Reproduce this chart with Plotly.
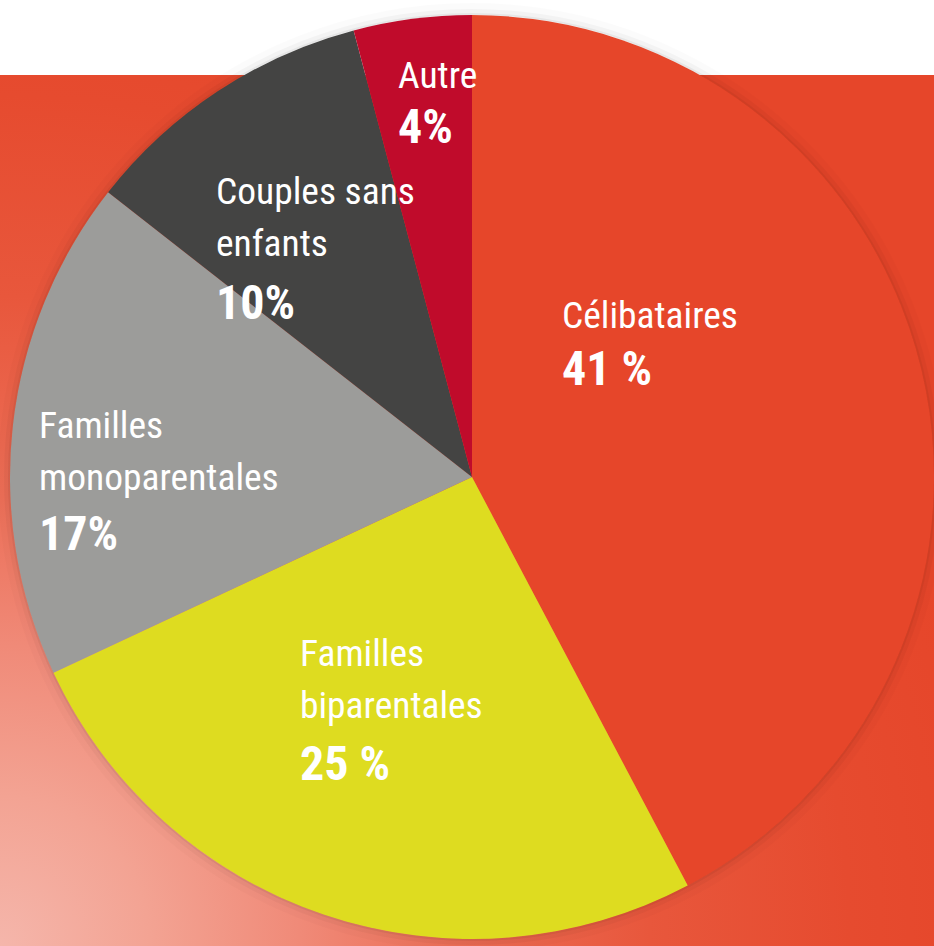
import plotly.graph_objects as go

# Household composition
categories = ["Célibataires", "Familles biparentales", "Familles monoparentales",
              "Couples sans enfants", "Autre"]
label_lines = ["Célibataires", "Familles<br>biparentales", "Familles<br>monoparentales",
               "Couples sans<br>enfants", "Autre"]
shares = [41, 25, 17, 10, 4]
share_labels = ["41 %", "25 %", "17%", "10%", "4%"]
colors = ["#E6462A", "#DEDC20", "#9C9C9A", "#444443", "#C00B2B"]

W, H = 934, 946
BAND_TOP = 75  # white strip above the red band
RED = "#E6462A"
PIE_LEFT, PIE_TOP = 10, 8  # pixel offsets of the pie domain

# (left x, first baseline, percent baseline) in pixels
label_pos = [(563, 327, 383), (301, 665, 778), (40, 437, 548), (217, 203, 317), (399, 87, 142)]

fig = go.Figure()

# red band with a pale glow from the bottom-left corner
gx, gy = 1000 / W, 1000 / (H - BAND_TOP)
fig.add_trace(go.Scatter(
    x=[-gx, gx, gx, -gx, -gx],
    y=[-gy, -gy, gy, gy, -gy],
    mode="lines",
    line=dict(width=0),
    fill="toself",
    fillgradient=dict(
        type="radial",
        colorscale=[[0, "#F5B6AB"], [0.15, "#F3A393"], [0.3, "#F08A78"],
                    [0.45, "#EC6E57"], [0.65, "#E8573C"], [0.85, "#E64B2F"],
                    [1, RED]],
    ),
    hoverinfo="skip",
    showlegend=False,
))

fig.add_trace(go.Pie(
    labels=categories,
    values=shares,
    sort=False,
    direction="clockwise",
    rotation=0,
    marker=dict(colors=colors, line=dict(width=0)),
    textinfo="none",
    hovertemplate="<b>%{label}</b><br>%{value}%<extra></extra>",
    domain=dict(x=[PIE_LEFT / W, 1], y=[0, 1 - PIE_TOP / H]),
    showlegend=False,
))

# soft shadow just outside the pie
r = min(W - PIE_LEFT, H - PIE_TOP) / 2
cx, cy = (PIE_LEFT + W) / 2, (PIE_TOP + H) / 2
for w, a in [(2, 0.05), (6, 0.03), (12, 0.015)]:
    rr = r + w / 2
    fig.add_shape(type="circle", xref="paper", yref="paper",
                  x0=(cx - rr) / W, x1=(cx + rr) / W,
                  y0=1 - (cy + rr) / H, y1=1 - (cy - rr) / H,
                  line=dict(color=f"rgba(0,0,0,{a})", width=w),
                  fillcolor="rgba(0,0,0,0)", layer="above")

font_family = "Roboto Condensed, Liberation Sans Narrow, Roboto, sans-serif"
for text, pct, (px, base1, base2) in zip(label_lines, share_labels, label_pos):
    fig.add_annotation(
        x=(px - 3) / W, y=1 - (base1 - 36) / H, xref="paper", yref="paper",
        xanchor="left", yanchor="top", align="left",
        text=f"<span style='font-size:37.5px'>{text}</span>",
        showarrow=False,
        font=dict(family=font_family, size=40, color="white"),
    )
    fig.add_annotation(
        x=(px - 3) / W, y=1 - (base2 - 45.5) / H, xref="paper", yref="paper",
        xanchor="left", yanchor="top", align="left",
        text=f"<b>{pct}</b>",
        showarrow=False,
        font=dict(family=font_family, size=48, color="white"),
    )

fig.update_layout(
    width=W, height=H,
    margin=dict(l=0, r=0, t=0, b=0),
    paper_bgcolor="white",
    plot_bgcolor=RED,
    xaxis=dict(range=[0, 1], domain=[0, 1], visible=False, fixedrange=True),
    yaxis=dict(range=[0, 1], domain=[0, (H - BAND_TOP) / H], visible=False, fixedrange=True),
)

fig.write_html("out.html", config={"displayModeBar": False},
               post_script="document.body.style.margin='0';document.body.style.overflow='hidden';")
